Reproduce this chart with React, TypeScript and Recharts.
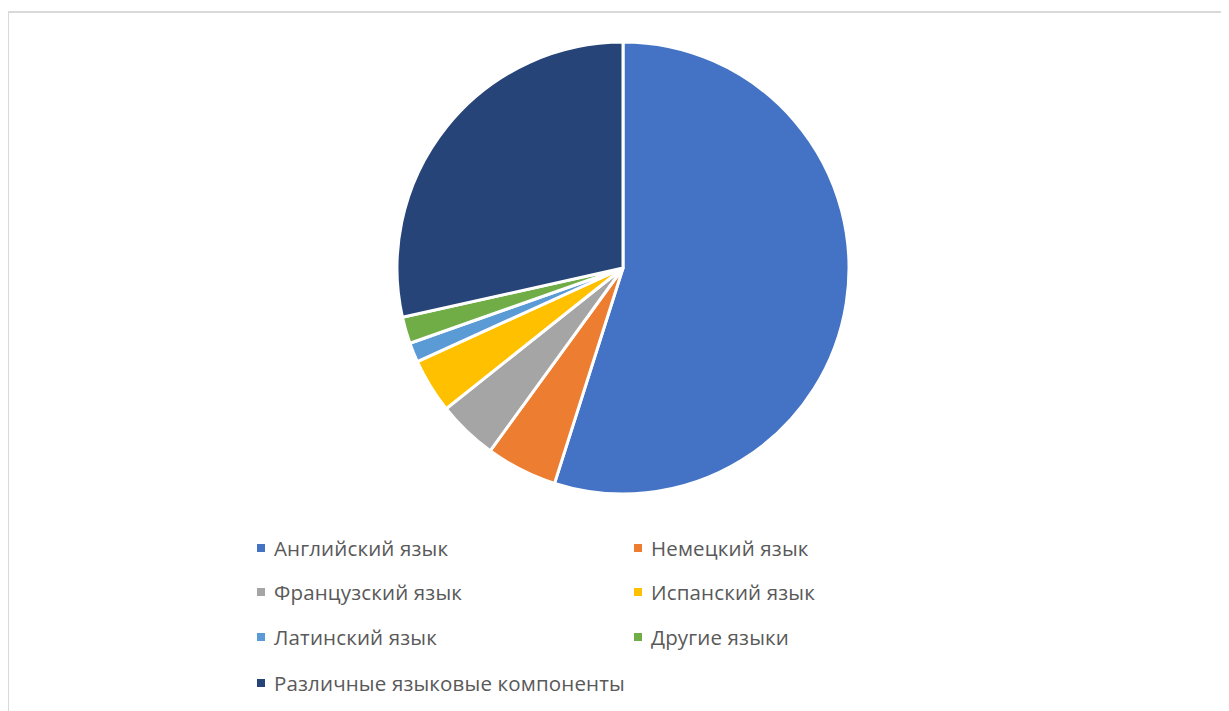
import { PieChart, Pie, Cell } from "recharts";

const languages = [
  "Английский язык",
  "Немецкий язык",
  "Французский язык",
  "Испанский язык",
  "Латинский язык",
  "Другие языки",
  "Различные языковые компоненты",
];
const shares = [54.9, 5.1, 4.3, 3.9, 1.4, 1.9, 28.5];
const colors = ["#4472c4", "#ed7d31", "#a5a5a5", "#ffc000", "#5b9bd5", "#70ad47", "#264478"];

const data = languages.map((name, i) => ({ name, value: shares[i] }));

const W = 1213;
const H = 703;

function Legend() {
  // two columns, last item alone in its row
  return (
    <>
      {data.map((d, i) => {
        const col = i % 2;
        const row = Math.floor(i / 2);
        const left = col === 0 ? 249 : 626;
        const top = [540, 584, 629, 675][row] - 8;
        return (
          <div
            key={d.name}
            style={{
              position: "absolute",
              left,
              top,
              display: "flex",
              alignItems: "center",
              height: 16,
              whiteSpace: "nowrap",
            }}
          >
            <span style={{ width: 8, height: 8, background: colors[i], display: "inline-block" }} />
            <span
              style={{
                marginLeft: 9,
                fontFamily: "'Open Sans', sans-serif",
                fontSize: 20.5,
                letterSpacing: 0.15,
                color: "#595959",
                lineHeight: "16px",
              }}
            >
              {d.name}
            </span>
          </div>
        );
      })}
    </>
  );
}

export default function App() {
  return (
    <div style={{ position: "relative", width: W, height: H }}>
      <div
        style={{
          position: "absolute",
          left: -1,
          top: 3,
          width: W + 1,
          height: H - 3,
          borderTop: "2px solid #d9d9d9",
          borderLeft: "2px solid #d9d9d9",
          boxSizing: "border-box",
        }}
      />
      <PieChart
        width={W}
        height={H}
        margin={{ top: 0, right: 0, bottom: 0, left: 0 }}
        style={{ position: "absolute", left: 0, top: 0 }}
      >
        <Pie
          data={data}
          dataKey="value"
          nameKey="name"
          cx={615}
          cy={260}
          outerRadius={226}
          startAngle={90}
          endAngle={-270}
          stroke="#ffffff"
          strokeWidth={3}
          isAnimationActive={false}
        >
          {data.map((d, i) => (
            <Cell key={d.name} fill={colors[i]} />
          ))}
        </Pie>
      </PieChart>
      <Legend />
    </div>
  );
}
